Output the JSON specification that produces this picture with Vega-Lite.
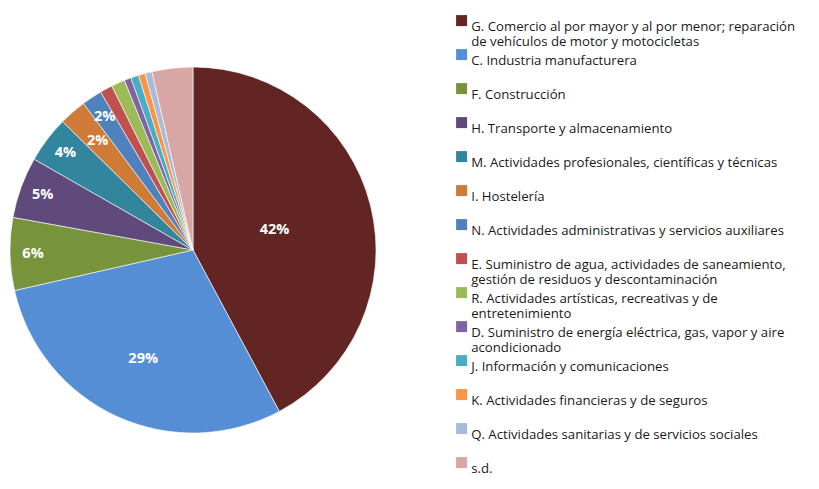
{
  "$schema": "https://vega.github.io/schema/vega-lite/v6.json",
  "autosize": "none",
  "width": 386,
  "height": 478,
  "padding": {"left": 0, "top": 11, "right": 433, "bottom": 0},
  "background": "white",
  "config": {"view": {"stroke": null}, "font": "Open Sans"},
  "data": {
    "values": [
      {"k": 1, "sector": "G. Comercio al por mayor y al por menor; reparación|de vehículos de motor y motocicletas", "pct": 42.1, "lbl": "42%"},
      {"k": 2, "sector": "C. Industria manufacturera", "pct": 29.2, "lbl": "29%"},
      {"k": 3, "sector": "F. Construcción", "pct": 6.4, "lbl": "6%"},
      {"k": 4, "sector": "H. Transporte y almacenamiento", "pct": 5.4, "lbl": "5%"},
      {"k": 5, "sector": "M. Actividades profesionales, científicas y técnicas", "pct": 4.1, "lbl": "4%"},
      {"k": 6, "sector": "I. Hostelería", "pct": 2.4, "lbl": "2%"},
      {"k": 7, "sector": "N. Actividades administrativas y servicios auxiliares", "pct": 1.8, "lbl": "2%"},
      {"k": 8, "sector": "E. Suministro de agua, actividades de saneamiento,|gestión de residuos y descontaminación", "pct": 1.1, "lbl": ""},
      {"k": 9, "sector": "R. Actividades artísticas, recreativas y de|entretenimiento", "pct": 1.2, "lbl": ""},
      {"k": 10, "sector": "D. Suministro de energía eléctrica, gas, vapor y aire|acondicionado", "pct": 0.6, "lbl": ""},
      {"k": 11, "sector": "J. Información y comunicaciones", "pct": 0.7, "lbl": ""},
      {"k": 12, "sector": "K. Actividades financieras y de seguros", "pct": 0.6, "lbl": ""},
      {"k": 13, "sector": "Q. Actividades sanitarias y de servicios sociales", "pct": 0.6, "lbl": ""},
      {"k": 14, "sector": "s.d.", "pct": 3.6, "lbl": ""}
    ]
  },
  "encoding": {
    "theta": {"field": "pct", "type": "quantitative", "stack": true},
    "order": {"field": "k", "type": "quantitative"}
  },
  "layer": [
    {
      "mark": {"type": "arc", "outerRadius": 183, "stroke": "white", "strokeWidth": 0.6},
      "encoding": {
        "color": {
          "field": "sector",
          "type": "nominal",
          "sort": {"field": "k"},
          "scale": {
            "domain": [
              "G. Comercio al por mayor y al por menor; reparación|de vehículos de motor y motocicletas",
              "C. Industria manufacturera",
              "F. Construcción",
              "H. Transporte y almacenamiento",
              "M. Actividades profesionales, científicas y técnicas",
              "I. Hostelería",
              "N. Actividades administrativas y servicios auxiliares",
              "E. Suministro de agua, actividades de saneamiento,|gestión de residuos y descontaminación",
              "R. Actividades artísticas, recreativas y de|entretenimiento",
              "D. Suministro de energía eléctrica, gas, vapor y aire|acondicionado",
              "J. Información y comunicaciones",
              "K. Actividades financieras y de seguros",
              "Q. Actividades sanitarias y de servicios sociales",
              "s.d."
            ],
            "range": ["#632523", "#558ED5", "#77933C", "#604A7B", "#31859C", "#D07A37", "#4F81BD", "#C0504D", "#9BBB59", "#8064A2", "#4BACC6", "#F79646", "#A9B9DA", "#D9A6A6"]
          },
          "legend": {
            "orient": "none",
            "legendX": 455,
            "legendY": 3,
            "title": null,
            "symbolType": "square",
            "symbolSize": 121,
            "symbolStrokeWidth": 0,
            "symbolOpacity": 1,
            "labelFont": "Open Sans",
            "labelFontSize": 13.2,
            "labelColor": "#1a1a1a",
            "labelLimit": 400,
            "labelOffset": 3,
            "labelBaseline": "top",
            "labelExpr": "split(datum.label, '|')",
            "gridAlign": "all",
            "rowPadding": 0,
            "padding": 0
          }
        }
      }
    },
    {
      "mark": {"type": "text", "radius": 84, "font": "Open Sans", "fontWeight": "bold", "fontSize": 14.5, "fill": "white"},
      "encoding": {"text": {"condition": {"test": "datum.k == 1", "field": "lbl"}, "value": ""}}
    },
    {
      "mark": {"type": "text", "radius": 120, "font": "Open Sans", "fontWeight": "bold", "fontSize": 14.5, "fill": "white"},
      "encoding": {"text": {"condition": {"test": "datum.k == 2", "field": "lbl"}, "value": ""}}
    },
    {
      "mark": {"type": "text", "radius": 160, "font": "Open Sans", "fontWeight": "bold", "fontSize": 14.5, "fill": "white"},
      "encoding": {"text": {"condition": {"test": "datum.k == 3 || datum.k == 4 || datum.k == 5 || datum.k == 7", "field": "lbl"}, "value": ""}}
    },
    {
      "mark": {"type": "text", "radius": 145, "font": "Open Sans", "fontWeight": "bold", "fontSize": 14.5, "fill": "white"},
      "encoding": {"text": {"condition": {"test": "datum.k == 6", "field": "lbl"}, "value": ""}}
    }
  ]
}
